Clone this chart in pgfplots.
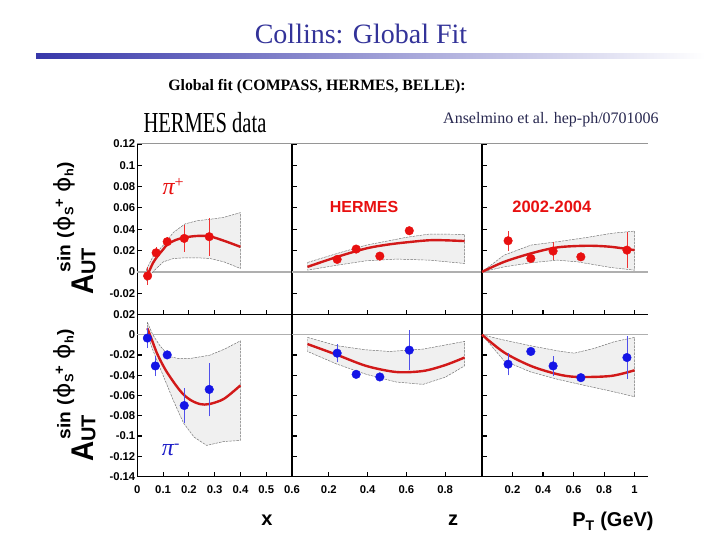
\documentclass[border=0pt]{standalone}
\usepackage{fontspec}
\setmainfont{Liberation Serif}
\setsansfont{Liberation Sans}
\newfontfamily\dejavu{DejaVu Sans}
\usepackage{graphicx}
\usepackage{pgfplots}
\pgfplotsset{compat=1.18}

\definecolor{titleblue}{RGB}{51,51,153}
\definecolor{barblue}{RGB}{55,55,170}
\definecolor{citegray}{RGB}{40,40,80}
\definecolor{mred}{RGB}{232,16,16}
\definecolor{ered}{RGB}{240,50,50}
\definecolor{cred}{RGB}{210,25,25}
\definecolor{mblue}{RGB}{20,20,230}
\definecolor{eblue}{RGB}{80,80,235}
\definecolor{pblue}{RGB}{30,30,200}
\definecolor{zgray}{RGB}{175,175,175}
\definecolor{tgray}{RGB}{150,150,150}
\definecolor{bandfill}{RGB}{240,240,240}
\definecolor{bandline}{RGB}{110,110,110}

\pgfplotsset{
  panel/.style={scale only axis, clip=false,
    axis x line*=bottom, axis y line*=left,
    axis line style={black, line width=1.2pt, -},
    tick align=inside, major tick length=4.5pt,
    tick style={black, line width=1.1pt},
    ticklabel style={font=\sffamily\bfseries\fontsize{11.3}{11.3}\selectfont},
    xticklabel style={yshift=-6pt},
    yticklabel style={xshift=1.5pt},
  },
  toprow/.style={panel, height=170.5pt, ymin=-0.04, ymax=0.12,
    ytick={-0.02,0,0.02,0.04,0.06,0.08,0.1,0.12}, xticklabels={}},
  botrow/.style={panel, height=162pt, ymin=-0.14, ymax=0.02,
    ytick={-0.14,-0.12,-0.1,-0.08,-0.06,-0.04,-0.02,0,0.02}},
  colA/.style={width=154.7pt, xmin=0, xmax=0.6, xtick={0,0.1,0.2,0.3,0.4,0.5,0.6}},
  colB/.style={width=190pt, xmin=0.01, xmax=0.99, xtick={0.2,0.4,0.6,0.8}, yticklabels={}},
  colC/.style={width=166.3pt, xmin=0, xmax=1.09, xtick={0.2,0.4,0.6,0.8,1}, yticklabels={}},
  zline/.style={zgray, line width=1.5pt},
  band/.style={fill=bandfill, draw=bandline, line width=0.45pt, dash pattern=on 2.5pt off 1pt},
  fitc/.style={cred, line width=2.4pt, smooth, tension=0.5},
  rederr/.style={draw=ered, line width=0.9pt, unbounded coords=jump},
  blueerr/.style={draw=eblue, line width=0.9pt, unbounded coords=jump},
  redpts/.style={only marks, mark=*, mark size=4.3pt, color=mred},
  bluepts/.style={only marks, mark=*, mark size=4.3pt, color=mblue},
}

\newcommand{\phiB}{{\dejavu\mdseries\fontsize{22}{22}\selectfont ϕ}}
\newcommand{\AUT}{\sffamily\bfseries
  \scalebox{1}[1.12]{\fontsize{28}{28}\selectfont A}%
  \rlap{\raisebox{-2pt}{\fontsize{20}{20}\selectfont UT}}%
  \kern2pt\raisebox{23pt}{\resizebox{110pt}{17pt}{\fontsize{18}{18}\selectfont sin\kern6pt(\kern1pt\phiB\raisebox{-3pt}{\fontsize{12}{12}\selectfont S}\raisebox{6pt}{\fontsize{14}{14}\selectfont +}\kern6pt\phiB\raisebox{-3pt}{\fontsize{12}{12}\selectfont h})}}}

\begin{document}
\begin{tikzpicture}[x=1pt,y=1pt]
\path[use as bounding box] (0,0) rectangle (720,540);
\fill[white] (0,0) rectangle (720,540);

% slide texts
\node[anchor=base, text=titleblue, font=\fontsize{28}{28}\selectfont] at (361,496) {Collins: Global Fit};
\shade[left color=barblue, right color=white] (36,481) rectangle (705,486);
\node[anchor=base, font=\bfseries\fontsize{15.8}{15.8}\selectfont] at (317,449) {Global fit (COMPASS, HERMES, BELLE):};
\node[anchor=base west, inner sep=0pt] at (143.3,407.7) {\scalebox{0.71}[1]{\fontsize{29}{29}\selectfont HERMES data}};
\node[anchor=base west, inner sep=0pt, text=citegray, font=\fontsize{16}{16}\selectfont] at (443,416.7) {Anselmino et al. hep-ph/0701006};

% y labels
\node[rotate=90, anchor=base west, inner sep=0pt] at (93.3,245) {\AUT};
\node[rotate=90, anchor=base west, inner sep=0pt] at (93.3,78) {\AUT};

% axis labels
\node[anchor=base, font=\sffamily\bfseries\fontsize{20}{20}\selectfont] at (267,14) {x};
\node[anchor=base, font=\sffamily\bfseries\fontsize{20}{20}\selectfont] at (453,14) {z};
\node[anchor=base, font=\sffamily\bfseries\fontsize{20}{20}\selectfont] at (613,13) {P\textsubscript{T} (GeV)};

% ---------------- top row, x ----------------
\begin{axis}[toprow, colA, at={(137.3pt,225.5pt)}, anchor=south west,
  yticklabels={-0.02,0,0.02,0.04,0.06,0.08,0.1,0.12}]
\draw[tgray, line width=1pt] (rel axis cs:0,1) -- (rel axis cs:1,1);
\addplot[zline] coordinates {(0,0) (0.6,0)};
\addplot[band] coordinates {
(0.035,0.002) (0.06,0.014) (0.101,0.0251) (0.14,0.037) (0.185,0.045) (0.232,0.048) (0.281,0.0493) (0.336,0.0512) (0.40,0.0556)
(0.40,0.0032) (0.336,0.0094) (0.281,0.0126) (0.232,0.0132) (0.185,0.0132) (0.14,0.0125) (0.101,0.0094) (0.06,0.000) (0.035,-0.008)
} -- cycle;
\addplot[fitc] coordinates {
(0.038,-0.004) (0.06,0.008) (0.078,0.0145) (0.10,0.021) (0.118,0.026) (0.15,0.030) (0.184,0.0323) (0.232,0.0337) (0.281,0.0333) (0.336,0.0292) (0.40,0.0235)};
% error bars: x, lower, upper (pairs separated by nan)
\addplot[rederr] coordinates {
(0.040,-0.0123) (0.040,0.0047) (0.040,nan)
(0.073,0.0129) (0.073,0.0229) (0.073,nan)
(0.116,0.0243) (0.116,0.0323) (0.116,nan)
(0.182,0.0188) (0.182,0.0440) (0.182,nan)
(0.279,0.0150) (0.279,0.0510)};
\addplot[redpts] table {
0.040 -0.0038
0.073 0.0179
0.116 0.0283
0.182 0.0314
0.279 0.0330
};
\node[anchor=base west, inner sep=0pt, text=mred, font=\fontsize{24}{24}\selectfont\itshape] at (axis cs:0.097,0.0725) {π\raisebox{7pt}{\fontsize{16}{16}\selectfont\upshape +}};
\end{axis}

% ---------------- top row, z ----------------
\begin{axis}[toprow, colB, at={(292pt,225.5pt)}, anchor=south west]
\draw[tgray, line width=1pt] (rel axis cs:0,1) -- (rel axis cs:1,1);
\addplot[zline] coordinates {(0.01,0) (0.99,0)};
\addplot[band] coordinates {
(0.09,0.0088) (0.243,0.0173) (0.393,0.0251) (0.6,0.0324) (0.72,0.0355) (0.9,0.0352)
(0.9,0.0079) (0.72,0.011) (0.55,0.012) (0.393,0.0104) (0.243,0.0063) (0.09,0.0016)
} -- cycle;
\addplot[fitc] coordinates {
(0.09,0.0047) (0.243,0.0141) (0.393,0.022) (0.5,0.0255) (0.6,0.0277) (0.737,0.0298) (0.9,0.0289)};
\addplot[redpts] table {
0.243 0.0117
0.341 0.0214
0.463 0.0148
0.615 0.0386
};
\node[anchor=base, inner sep=0pt, text=mred, font=\sffamily\bfseries\fontsize{16}{16}\selectfont] at (rel axis cs:0.379,0.6) {HERMES};
\end{axis}

% ---------------- top row, PT ----------------
\begin{axis}[toprow, colC, at={(482pt,225.5pt)}, anchor=south west]
\draw[tgray, line width=1pt] (rel axis cs:0,1) -- (rel axis cs:1,1);
\addplot[zline] coordinates {(0,0) (1.09,0)};
\addplot[band] coordinates {
(0,0) (0.145,0.0157) (0.32,0.0251) (0.495,0.0283) (0.692,0.0324) (0.845,0.0361) (1.0,0.0383)
(1.0,0.0016) (0.845,0.0041) (0.626,0.0094) (0.495,0.011) (0.32,0.0085) (0.145,0.0047)
} -- cycle;
\addplot[fitc] coordinates {
(0,0) (0.145,0.0094) (0.32,0.0173) (0.495,0.023) (0.692,0.0245) (0.845,0.0235) (1.0,0.0204)};
\addplot[rederr] coordinates {
(0.171,0.0198) (0.171,0.0386) (0.171,nan)
(0.320,0.0096) (0.320,0.0156) (0.320,nan)
(0.466,0.0113) (0.466,0.0277) (0.466,nan)
(0.648,0.0111) (0.648,0.0171) (0.648,nan)
(0.950,0.0036) (0.950,0.0372)};
\addplot[redpts] table {
0.171 0.0292
0.320 0.0126
0.466 0.0195
0.648 0.0141
0.950 0.0204
};
\node[anchor=base, inner sep=0pt, text=mred, font=\sffamily\bfseries\fontsize{16.5}{16.5}\selectfont] at (rel axis cs:0.42,0.6) {2002-2004};
\end{axis}

% ---------------- bottom row, x ----------------
\begin{axis}[botrow, colA, at={(137.3pt,63.5pt)}, anchor=south west,
  yticklabels={-0.14,-0.12,-0.1,-0.08,-0.06,-0.04,-0.02,0,0.02},
  xticklabels={0,0.1,0.2,0.3,0.4,0.5,0.6}]
\draw[black, line width=1.2pt] (rel axis cs:0,1) -- (rel axis cs:1,1);
\addplot[zline] coordinates {(0,0) (0.6,0)};
\addplot[band] coordinates {
(0.039,0.0123) (0.06,0.000) (0.088,-0.0109) (0.124,-0.0215) (0.16,-0.0235) (0.203,-0.0235) (0.281,-0.0202) (0.34,-0.014) (0.40,-0.006)
(0.40,-0.1044) (0.336,-0.1054) (0.269,-0.1093) (0.22,-0.101) (0.179,-0.0871) (0.14,-0.065) (0.101,-0.0408) (0.06,-0.015) (0.039,0.000)
} -- cycle;
\addplot[fitc] coordinates {
(0.039,0.0064) (0.055,-0.004) (0.075,-0.0175) (0.095,-0.028) (0.116,-0.0374) (0.15,-0.050) (0.179,-0.059) (0.21,-0.065) (0.244,-0.0685) (0.279,-0.0685) (0.336,-0.0633) (0.40,-0.050)};
\addplot[blueerr] coordinates {
(0.039,-0.0133) (0.039,0.0067) (0.039,nan)
(0.070,-0.0408) (0.070,-0.0208) (0.070,nan)
(0.116,-0.0239) (0.116,-0.0159) (0.116,nan)
(0.182,-0.0874) (0.182,-0.0524) (0.182,nan)
(0.279,-0.0805) (0.279,-0.0275)};
\addplot[bluepts] table {
0.039 -0.0033
0.070 -0.0308
0.116 -0.0199
0.182 -0.0699
0.279 -0.0540
};
\node[anchor=base west, inner sep=0pt, text=pblue, font=\fontsize{24}{24}\selectfont\itshape] at (axis cs:0.095,-0.119) {π\raisebox{7pt}{\fontsize{16}{16}\selectfont\upshape -}};
\end{axis}

% ---------------- bottom row, z ----------------
\begin{axis}[botrow, colB, at={(292pt,63.5pt)}, anchor=south west,
  xticklabels={0.2,0.4,0.6,0.8}]
\draw[black, line width=1.2pt] (rel axis cs:0,1) -- (rel axis cs:1,1);
\addplot[zline] coordinates {(0.01,0) (0.99,0)};
\addplot[band] coordinates {
(0.09,-0.0026) (0.243,-0.0109) (0.393,-0.0149) (0.513,-0.0165) (0.686,-0.0142) (0.9,-0.0066)
(0.9,-0.0308) (0.8,-0.042) (0.686,-0.049) (0.548,-0.0467) (0.393,-0.0391) (0.243,-0.0291) (0.09,-0.0165)
} -- cycle;
\addplot[fitc] coordinates {
(0.09,-0.0092) (0.243,-0.0199) (0.393,-0.0308) (0.548,-0.0368) (0.686,-0.0358) (0.8,-0.030) (0.9,-0.0225)};
\addplot[blueerr] coordinates {
(0.243,-0.0272) (0.243,-0.0092) (0.243,nan)
(0.615,-0.0347) (0.615,0.0043)};
\addplot[bluepts] table {
0.243 -0.0182
0.341 -0.0391
0.463 -0.0417
0.615 -0.0152
};
\end{axis}

% ---------------- bottom row, PT ----------------
\begin{axis}[botrow, colC, at={(482pt,63.5pt)}, anchor=south west,
  xticklabels={0.2,0.4,0.6,0.8,1}]
\draw[black, line width=1.2pt] (rel axis cs:0,1) -- (rel axis cs:1,1);
\addplot[zline] coordinates {(0,0) (1.09,0)};
\addplot[band] coordinates {
(0,0) (0.145,-0.0053) (0.32,-0.0109) (0.495,-0.0159) (0.604,-0.0182) (0.735,-0.0135) (0.866,-0.0069) (1.0,-0.0026)
(1.0,-0.0612) (0.845,-0.0557) (0.692,-0.0507) (0.495,-0.044) (0.32,-0.0368) (0.145,-0.0258)
} -- cycle;
\addplot[fitc] coordinates {
(0,0) (0.145,-0.0175) (0.32,-0.0308) (0.495,-0.039) (0.626,-0.0417) (0.845,-0.0407) (1.0,-0.0351)};
\addplot[blueerr] coordinates {
(0.171,-0.0401) (0.171,-0.0181) (0.171,nan)
(0.466,-0.0408) (0.466,-0.0208) (0.466,nan)
(0.950,-0.0435) (0.950,-0.0015)};
\addplot[bluepts] table {
0.171 -0.0291
0.320 -0.0165
0.466 -0.0308
0.648 -0.0424
0.950 -0.0225
};
\end{axis}
\end{tikzpicture}
\end{document}
